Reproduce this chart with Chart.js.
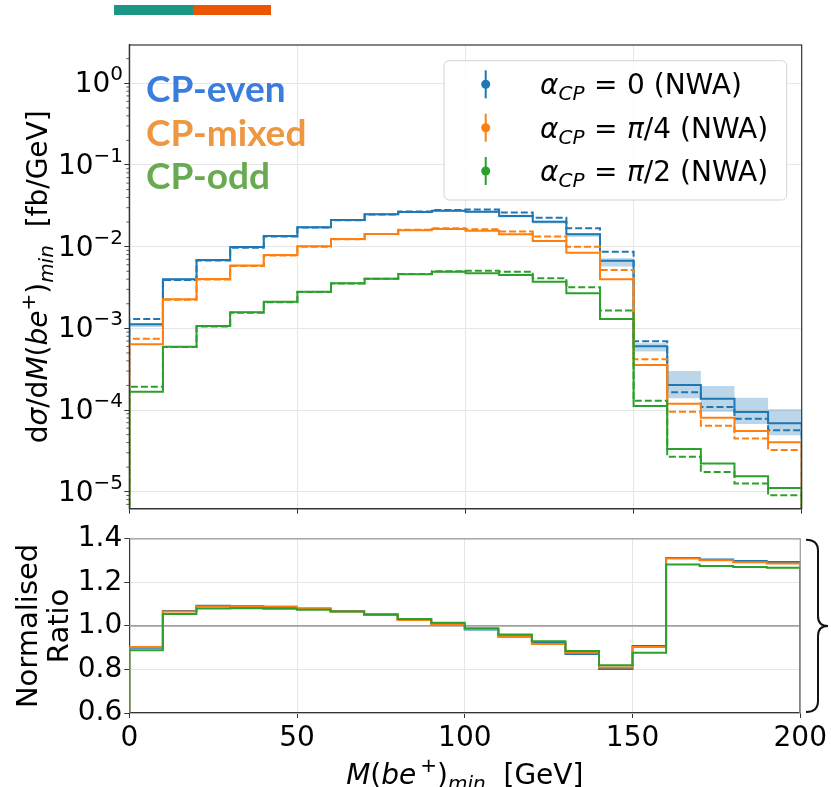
<!DOCTYPE html>
<html>
<head>
<meta charset="utf-8">
<script src="https://cdn.jsdelivr.net/npm/chart.js@4.4.0/dist/chart.umd.min.js"></script>
<style>
  body { margin: 0; background: #fff; }
  #wrap { position: relative; width: 831px; height: 787px; }
  #main { position: absolute; left: 0; top: 0; }
  #ratio { position: absolute; left: 0; top: 520px; }
  .bar { position: absolute; top: 5px; height: 10px; }
</style>
</head>
<body>
<div id="wrap">
  <div class="bar" style="left:114px;width:79px;background:#1b9786"></div>
  <div class="bar" style="left:193px;width:78px;background:#eb5602"></div>
  <canvas id="main" width="831" height="520"></canvas>
  <canvas id="ratio" width="831" height="267"></canvas>
</div>
<script>
// bin edges (GeV)
const binEdges = [0, 10, 20, 30, 40, 50, 60, 70, 80, 90, 100, 110, 120, 130, 140, 150, 160, 170, 180, 190, 200];

// dsigma/dM, solid = NWA, dashed = second prediction
const blueNom   = [1.12e-3, 3.99e-3, 6.87e-3, 9.9e-3, 1.35e-2, 1.73e-2, 2.12e-2, 2.49e-2, 2.66e-2, 2.76e-2, 2.68e-2, 2.38e-2, 2.02e-2, 1.42e-2, 6.74e-3, 6.04e-4, 2.03e-4, 1.37e-4, 9.48e-5, 6.9e-5];
const blueAlt   = [1.30e-3, 3.92e-3, 6.75e-3, 9.7e-3, 1.33e-2, 1.71e-2, 2.10e-2, 2.48e-2, 2.69e-2, 2.80e-2, 2.84e-2, 2.61e-2, 2.26e-2, 1.68e-2, 8.69e-3, 6.95e-4, 1.65e-4, 1.09e-4, 7.85e-5, 5.66e-5];
const blueHi    = [1.15e-3, 4.1e-3, 7.05e-3, 1.01e-2, 1.38e-2, 1.77e-2, 2.17e-2, 2.55e-2, 2.72e-2, 2.83e-2, 2.75e-2, 2.45e-2, 2.08e-2, 1.47e-2, 7.2e-3, 6.57e-4, 3.01e-4, 1.97e-4, 1.41e-4, 1.02e-4];
const blueLo    = [1.04e-3, 3.85e-3, 6.65e-3, 9.6e-3, 1.31e-2, 1.68e-2, 2.06e-2, 2.42e-2, 2.59e-2, 2.68e-2, 2.58e-2, 2.28e-2, 1.92e-2, 1.32e-2, 5.7e-3, 5.19e-4, 1.39e-4, 9.55e-5, 6.76e-5, 4.92e-5];
const orangeNom = [6.38e-4, 2.27e-3, 4.02e-3, 5.86e-3, 7.91e-3, 1.01e-2, 1.24e-2, 1.43e-2, 1.59e-2, 1.65e-2, 1.57e-2, 1.42e-2, 1.17e-2, 8.45e-3, 3.99e-3, 3.56e-4, 1.19e-4, 8.07e-5, 5.55e-5, 4.03e-5];
const orangeAlt = [7.48e-4, 2.24e-3, 3.95e-3, 5.78e-3, 7.82e-3, 1.0e-2, 1.23e-2, 1.43e-2, 1.61e-2, 1.68e-2, 1.63e-2, 1.53e-2, 1.33e-2, 1.0e-2, 5.19e-3, 4.19e-4, 9.55e-5, 6.44e-5, 4.47e-5, 3.25e-5];
const greenNom  = [1.68e-4, 5.97e-4, 1.07e-3, 1.57e-3, 2.12e-3, 2.81e-3, 3.56e-3, 4.06e-3, 4.59e-3, 4.94e-3, 4.72e-3, 4.51e-3, 3.73e-3, 2.69e-3, 1.30e-3, 1.12e-4, 3.34e-5, 2.21e-5, 1.55e-5, 1.11e-5];
const greenAlt  = [1.93e-4, 5.9e-4, 1.05e-3, 1.55e-3, 2.09e-3, 2.78e-3, 3.53e-3, 4.05e-3, 4.62e-3, 5.0e-3, 5.08e-3, 4.94e-3, 4.1e-3, 3.18e-3, 1.65e-3, 1.30e-4, 2.69e-5, 1.75e-5, 1.26e-5, 9.06e-6];

// normalised ratio panel
const blueRatio   = [0.900, 1.068, 1.093, 1.090, 1.084, 1.079, 1.067, 1.053, 1.031, 1.008, 0.983, 0.953, 0.921, 0.871, 0.802, 0.908, 1.312, 1.305, 1.298, 1.293];
const orangeRatio = [0.903, 1.066, 1.089, 1.087, 1.089, 1.081, 1.066, 1.052, 1.027, 1.004, 0.986, 0.949, 0.917, 0.877, 0.809, 0.903, 1.309, 1.301, 1.292, 1.286];
const greenRatio  = [0.888, 1.055, 1.080, 1.081, 1.079, 1.074, 1.066, 1.051, 1.032, 1.014, 0.989, 0.960, 0.929, 0.885, 0.819, 0.877, 1.282, 1.275, 1.270, 1.267];

const yTickValues = [1e-5, 1e-4, 1e-3, 1e-2, 1e-1, 1];
const ratioTicks = [0.6, 0.8, 1.0, 1.2, 1.4];
const xTicks = [0, 50, 100, 150, 200];
const legendAlpha = ['0', 'π/4', 'π/2'];
const cpLabels = ['CP-even', 'CP-mixed', 'CP-odd'];

const C_BLUE = '#1f77b4', C_ORANGE = '#ff7f0e', C_GREEN = '#2ca02c';
const cpColors = ['#3a7ddd', '#ee9640', '#68aa50'];

const R = s => s + 'px "DejaVu Sans"';
const I = s => 'italic ' + s + 'px "DejaVu Sans"';

function stepPts(vals, floor) {
  const p = [];
  if (floor !== undefined) p.push({ x: binEdges[0], y: floor });
  vals.forEach((v, i) => p.push({ x: binEdges[i], y: v }));
  p.push({ x: binEdges[vals.length], y: vals[vals.length - 1] });
  if (floor !== undefined) p.push({ x: binEdges[vals.length], y: floor });
  return p;
}

function stepLine(vals, color, dashed, order, floor) {
  return {
    data: stepPts(vals, floor), stepped: 'before', borderColor: color, borderWidth: 2,
    borderDash: dashed ? [7, 3] : [], pointRadius: 0, fill: false, order: order
  };
}

function drawParts(ctx, parts, x, y, align) {
  let w = 0;
  parts.forEach(p => { ctx.font = p.f; w += ctx.measureText(p.t).width; });
  let cx = align === 'center' ? x - w / 2 : (align === 'right' ? x - w : x);
  ctx.textAlign = 'left';
  ctx.textBaseline = 'alphabetic';
  parts.forEach(p => { ctx.font = p.f; ctx.fillText(p.t, cx, y + (p.dy || 0)); cx += ctx.measureText(p.t).width; });
  return w;
}

const mainDecor = {
  id: 'mainDecor',
  afterDraw(chart) {
    const ctx = chart.ctx, a = chart.chartArea, ys = chart.scales.y;
    ctx.save();
    // frame
    ctx.strokeStyle = '#333'; ctx.lineWidth = 1.2;
    ctx.strokeRect(a.left, a.top, a.right - a.left, a.bottom - a.top);
    // minor ticks
    ctx.lineWidth = 0.8;
    for (let n = -6; n <= 0; n++) {
      for (let k = 2; k <= 9; k++) {
        const v = k * Math.pow(10, n);
        if (v < ys.min || v > ys.max) continue;
        const py = ys.getPixelForValue(v);
        ctx.beginPath(); ctx.moveTo(a.left - 3, py); ctx.lineTo(a.left, py); ctx.stroke();
      }
    }
    // y tick labels 10^n
    ctx.fillStyle = '#000';
    yTickValues.forEach(v => {
      const n = Math.round(Math.log10(v));
      const py = ys.getPixelForValue(v);
      const e = n === 0 ? '0' : '\u2212' + Math.abs(n);
      drawParts(ctx, [{ t: '10', f: R(28), dy: 9 }, { t: e, f: R(20), dy: -3 }], 123, py, 'right');
    });
    // y axis title
    ctx.save();
    ctx.translate(47, (a.top + a.bottom) / 2);
    ctx.rotate(-Math.PI / 2);
    drawParts(ctx, [
      { t: 'd', f: R(28) }, { t: 'σ', f: I(28) }, { t: '/d', f: R(28) }, { t: 'M', f: I(28) },
      { t: '(', f: R(28) }, { t: 'be', f: I(28) }, { t: '+', f: R(20), dy: -12 }, { t: ')', f: R(28) },
      { t: 'min', f: I(20), dy: 6 }, { t: '  [fb/GeV]', f: R(28) }
    ], 0, 0, 'center');
    ctx.restore();
    // CP labels
    ctx.font = 'bold 37px Lato';
    ctx.textAlign = 'left'; ctx.textBaseline = 'alphabetic';
    [102, 146, 189].forEach((by, i) => { ctx.fillStyle = cpColors[i]; ctx.fillText(cpLabels[i], 146, by); });
    // legend box
    ctx.beginPath();
    ctx.roundRect(444, 60.7, 342.7, 139.3, 5);
    ctx.fillStyle = 'rgba(255,255,255,0.85)'; ctx.fill();
    ctx.strokeStyle = '#d4d4d4'; ctx.lineWidth = 1; ctx.stroke();
    const cols = [C_BLUE, C_ORANGE, C_GREEN];
    [84.3, 127.7, 171].forEach((ry, i) => {
      ctx.strokeStyle = cols[i]; ctx.fillStyle = cols[i]; ctx.lineWidth = 2;
      ctx.beginPath(); ctx.moveTo(485.7, ry - 14); ctx.lineTo(485.7, ry + 14); ctx.stroke();
      ctx.beginPath(); ctx.arc(485.7, ry, 4.5, 0, Math.PI * 2); ctx.fill();
      ctx.fillStyle = '#000';
      const by = ry + 10;
      drawParts(ctx, [{ t: 'α', f: I(28) }, { t: 'CP', f: I(20), dy: 6 }], 540, by, 'left');
      drawParts(ctx, [{ t: '=', f: R(28) }], 594, by, 'left');
      const val = legendAlpha[i];
      const valParts = val.startsWith('π')
        ? [{ t: 'π', f: I(28) }, { t: val.slice(1), f: R(28) }]
        : [{ t: val, f: R(28) }];
      drawParts(ctx, valParts.concat([{ t: ' (NWA)', f: R(28) }]), 627, by, 'left');
    });
    ctx.restore();
  }
};

const ratioDecor = {
  id: 'ratioDecor',
  afterDraw(chart) {
    const ctx = chart.ctx, a = chart.chartArea;
    ctx.save();
    ctx.strokeStyle = '#999'; ctx.lineWidth = 1.2;
    ctx.beginPath(); ctx.moveTo(a.left, a.top); ctx.lineTo(a.right, a.top); ctx.lineTo(a.right, a.bottom); ctx.stroke();
    // brace
    const bx = 806, top = a.top, bot = a.bottom, mid = (a.top + a.bottom) / 2;
    ctx.strokeStyle = '#111'; ctx.lineWidth = 2;
    ctx.beginPath();
    ctx.moveTo(bx, top + 1);
    ctx.bezierCurveTo(813, top + 1, 818, top + 4, 818, top + 12);
    ctx.lineTo(818, mid - 10);
    ctx.bezierCurveTo(818, mid - 3, 822, mid, 828, mid);
    ctx.bezierCurveTo(822, mid, 818, mid + 3, 818, mid + 10);
    ctx.lineTo(818, bot - 12);
    ctx.bezierCurveTo(818, bot - 4, 813, bot - 1, bx, bot - 1);
    ctx.stroke();
    // y title
    ctx.fillStyle = '#000';
    ctx.save();
    ctx.translate(37, mid); ctx.rotate(-Math.PI / 2);
    drawParts(ctx, [{ t: 'Normalised', f: R(29) }], 0, 0, 'center');
    ctx.restore();
    ctx.save();
    ctx.translate(68, mid); ctx.rotate(-Math.PI / 2);
    drawParts(ctx, [{ t: 'Ratio', f: R(29) }], 0, 0, 'center');
    ctx.restore();
    // x title
    drawParts(ctx, [
      { t: 'M', f: I(28) }, { t: '(', f: R(28) }, { t: 'be', f: I(28) }, { t: '\u2009+', f: R(20), dy: -12 },
      { t: ')', f: R(28) }, { t: 'min', f: I(20), dy: 6 }, { t: '  [GeV]', f: R(28) }
    ], (a.left + a.right) / 2, 264, 'center');
    ctx.restore();
  }
};

const gridCol = '#e6e6e6';

new Chart(document.getElementById('main'), {
  type: 'line',
  data: {
    datasets: [
      { data: stepPts(blueHi), stepped: 'before', borderWidth: 0, pointRadius: 0, backgroundColor: 'rgba(31,119,180,0.3)', fill: '+1', order: 10 },
      { data: stepPts(blueLo), stepped: 'before', borderWidth: 0, pointRadius: 0, fill: false, order: 10 },
      stepLine(blueAlt, C_BLUE, true, 9, 1e-7),
      stepLine(blueNom, C_BLUE, false, 8, 1e-7),
      stepLine(orangeAlt, C_ORANGE, true, 7, 1e-7),
      stepLine(orangeNom, C_ORANGE, false, 6, 1e-7),
      stepLine(greenAlt, C_GREEN, true, 5, 1e-7),
      stepLine(greenNom, C_GREEN, false, 4, 1e-7)
    ]
  },
  options: {
    responsive: false, animation: false,
    layout: { padding: { left: 0, top: 45, right: 29.3, bottom: 0 } },
    plugins: { legend: { display: false }, tooltip: { enabled: false } },
    scales: {
      x: {
        type: 'linear', min: 0, max: 200,
        afterBuildTicks: s => { s.ticks = xTicks.map(v => ({ value: v })); },
        ticks: { display: false },
        grid: { color: gridCol, tickColor: '#333', tickLength: 5 },
        border: { color: '#333', width: 1.2 },
        afterFit: s => { s.height = 11.3; }
      },
      y: {
        type: 'logarithmic', min: 6.2e-6, max: 2.94,
        afterBuildTicks: s => { s.ticks = yTickValues.map(v => ({ value: v })); },
        ticks: { display: false },
        grid: { color: gridCol, tickColor: '#333', tickLength: 5 },
        border: { color: '#333', width: 1.2 },
        afterFit: s => { s.width = 129.3; }
      }
    }
  },
  plugins: [mainDecor]
});

new Chart(document.getElementById('ratio'), {
  type: 'line',
  data: {
    datasets: [
      { data: [{ x: 0, y: 1 }, { x: 200, y: 1 }], borderColor: '#a0a0a0', borderWidth: 1.6, pointRadius: 0, order: 20 },
      stepLine(blueRatio, C_BLUE, false, 8, 0.5),
      stepLine(orangeRatio, C_ORANGE, false, 6, 0.5),
      stepLine(greenRatio, C_GREEN, false, 4, 0.5)
    ]
  },
  options: {
    responsive: false, animation: false,
    layout: { padding: { left: 0, top: 11.7, right: 29, bottom: 0 } },
    plugins: { legend: { display: false }, tooltip: { enabled: false } },
    scales: {
      x: {
        type: 'linear', min: 0, max: 200,
        afterBuildTicks: s => { s.ticks = xTicks.map(v => ({ value: v })); },
        ticks: { font: { family: 'DejaVu Sans', size: 28 }, color: '#000', padding: 4, autoSkip: false, maxRotation: 0 },
        grid: { color: gridCol, tickColor: '#333', tickLength: 5 },
        border: { color: '#333', width: 1.2 },
        afterFit: s => { s.height = 74; }
      },
      y: {
        type: 'linear', min: 0.6, max: 1.4,
        afterBuildTicks: s => { s.ticks = ratioTicks.map(v => ({ value: v })); },
        ticks: { font: { family: 'DejaVu Sans', size: 28 }, color: '#000', padding: 2, callback: v => v.toFixed(1) },
        grid: { color: gridCol, tickColor: '#333', tickLength: 5 },
        border: { color: '#333', width: 1.2 },
        afterFit: s => { s.width = 129.3; }
      }
    }
  },
  plugins: [ratioDecor]
});
</script>
</body>
</html>
